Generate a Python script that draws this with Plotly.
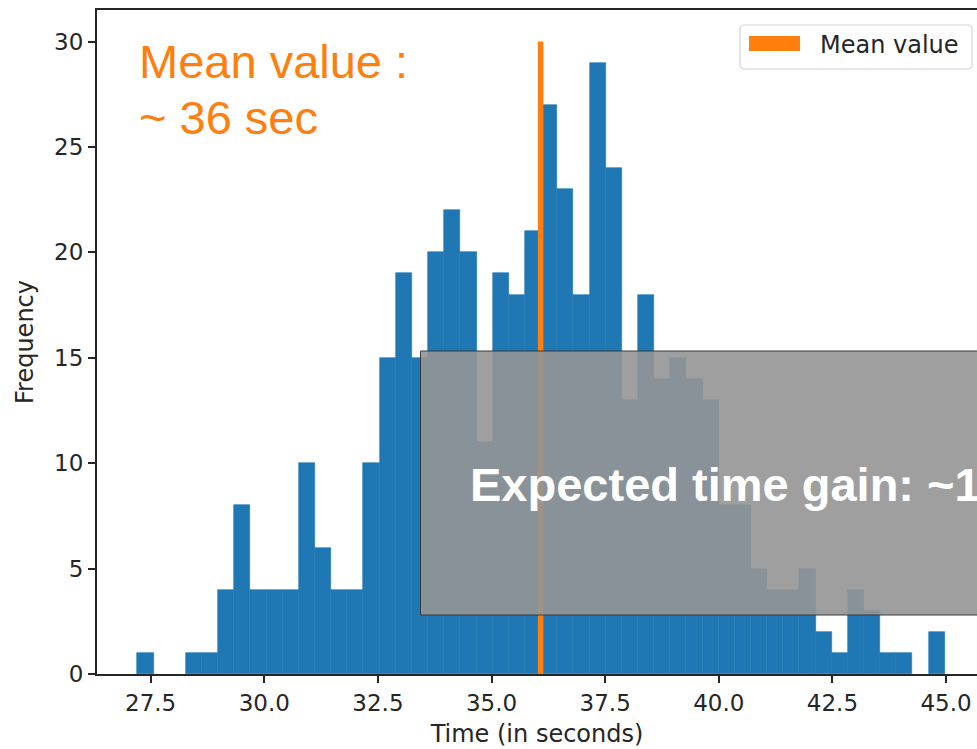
import plotly.graph_objects as go

# Run-time histogram: 50 equal-width bins
BIN_START = 27.21
BIN_WIDTH = 0.3552
counts = [1, 0, 0, 1, 1, 4, 8, 4, 4, 4,
          10, 6, 4, 4, 10, 15, 19, 15, 20, 22,
          20, 11, 19, 18, 21, 27, 23, 18, 29, 24,
          13, 18, 14, 15, 14, 13, 8, 8, 5, 4,
          4, 5, 2, 1, 4, 3, 1, 1, 0, 2]

MEAN_TIME = 36.08
MEAN_LINE_TOP = 30

x_ticks = [27.5, 30.0, 32.5, 35.0, 37.5, 40.0, 42.5, 45.0]
y_ticks = [0, 5, 10, 15, 20, 25, 30]

X_RANGE = [26.32, 45.68]
Y_RANGE = [0, 31.5]

W, H = 977, 749
ML, MR, MT, MB = 97, 0, 10, 75
PW, PH = W - ML - MR, H - MT - MB

BLUE = "#1f77b4"
ORANGE = "#ff7f0e"
INK = "#262626"
TICK_FONT = dict(family="DejaVu Sans", size=23, color=INK)


def px_x(px):
    """Page pixel column -> paper x."""
    return (px - ML) / PW


def px_y(py):
    """Page pixel row -> paper y."""
    return (H - MB - py) / PH


centers = [BIN_START + (i + 0.5) * BIN_WIDTH for i in range(len(counts))]
# thin same-colour outline hides seams between adjacent bars; empty bins get none
outline_widths = [0.6 if c > 0 else 0 for c in counts]

fig = go.Figure()
fig.add_trace(go.Bar(
    x=centers, y=counts, width=BIN_WIDTH,
    marker=dict(color=BLUE, line=dict(color=BLUE, width=outline_widths)),
    showlegend=False, hoverinfo="x+y",
))
fig.add_trace(go.Scatter(
    x=[MEAN_TIME, MEAN_TIME], y=[0, MEAN_LINE_TOP], mode="lines",
    line=dict(color=ORANGE, width=5.5), name="Mean value", showlegend=False,
))

shapes = []
annotations = []

# grey banner across the lower right part of the axes
shapes.append(dict(
    type="rect", xref="paper", yref="paper", layer="above",
    x0=px_x(420.5), x1=1.03, y0=px_y(615), y1=px_y(351),
    fillcolor="rgba(149,149,149,0.9)", line=dict(color="#3a3a3a", width=1),
))
annotations.append(dict(
    text="<b>Expected time gain: ~1</b>", xref="paper", yref="paper",
    x=px_x(468), y=px_y(484), xanchor="left", yanchor="middle", showarrow=False,
    font=dict(family="Liberation Sans", size=47, color="white"),
))

# mean value callout
annotations.append(dict(
    text="Mean value :", xref="paper", yref="paper",
    x=px_x(137), y=px_y(62), xanchor="left", yanchor="middle", showarrow=False,
    font=dict(family="Liberation Sans", size=47, color=ORANGE),
))
annotations.append(dict(
    text=f"~ {MEAN_TIME:.0f} sec", xref="paper", yref="paper",
    x=px_x(137), y=px_y(117), xanchor="left", yanchor="middle", showarrow=False,
    font=dict(family="Liberation Sans", size=47, color=ORANGE),
))

# legend box with a patch for the mean line
lx0, lx1, ly0, ly1, r = 740, 972, 25, 69, 4
legend_path = (
    f"M {px_x(lx0 + r)} {px_y(ly0)} L {px_x(lx1 - r)} {px_y(ly0)} "
    f"Q {px_x(lx1)} {px_y(ly0)} {px_x(lx1)} {px_y(ly0 + r)} "
    f"L {px_x(lx1)} {px_y(ly1 - r)} "
    f"Q {px_x(lx1)} {px_y(ly1)} {px_x(lx1 - r)} {px_y(ly1)} "
    f"L {px_x(lx0 + r)} {px_y(ly1)} "
    f"Q {px_x(lx0)} {px_y(ly1)} {px_x(lx0)} {px_y(ly1 - r)} "
    f"L {px_x(lx0)} {px_y(ly0 + r)} "
    f"Q {px_x(lx0)} {px_y(ly0)} {px_x(lx0 + r)} {px_y(ly0)} Z"
)
shapes.append(dict(
    type="path", xref="paper", yref="paper", layer="above", path=legend_path,
    fillcolor="rgba(255,255,255,0.85)", line=dict(color="#d4d4d4", width=1.2),
))
shapes.append(dict(
    type="rect", xref="paper", yref="paper", layer="above",
    x0=px_x(749), x1=px_x(800), y0=px_y(51), y1=px_y(36),
    fillcolor=ORANGE, line=dict(width=0),
))
annotations.append(dict(
    text="Mean value", xref="paper", yref="paper",
    x=px_x(818), y=px_y(45), xanchor="left", yanchor="middle", showarrow=False,
    font=dict(family="DejaVu Sans", size=24, color=INK),
))

fig.update_layout(
    width=W, height=H,
    margin=dict(l=ML, r=MR, t=MT, b=MB, pad=0),
    paper_bgcolor="white", plot_bgcolor="white",
    bargap=0, showlegend=False,
    shapes=shapes, annotations=annotations,
    xaxis=dict(
        range=X_RANGE, tickvals=x_ticks, ticktext=[f"{v:.1f}" for v in x_ticks],
        showgrid=False, zeroline=False,
        showline=True, linecolor=INK, linewidth=2, mirror=True,
        ticks="outside", ticklen=7, tickwidth=1.5, tickcolor=INK,
        tickfont=TICK_FONT,
        title=dict(text="Time (in seconds)", standoff=11,
                   font=dict(family="DejaVu Sans", size=24, color=INK)),
    ),
    yaxis=dict(
        range=Y_RANGE, tickvals=y_ticks, ticktext=[str(v) for v in y_ticks],
        showgrid=False, zeroline=False,
        showline=True, linecolor=INK, linewidth=2,
        ticks="outside", ticklen=7, tickwidth=1.5, tickcolor=INK,
        tickfont=TICK_FONT,
        title=dict(text="Frequency", standoff=14,
                   font=dict(family="DejaVu Sans", size=24, color=INK)),
    ),
)

fig.write_html("out.html")
